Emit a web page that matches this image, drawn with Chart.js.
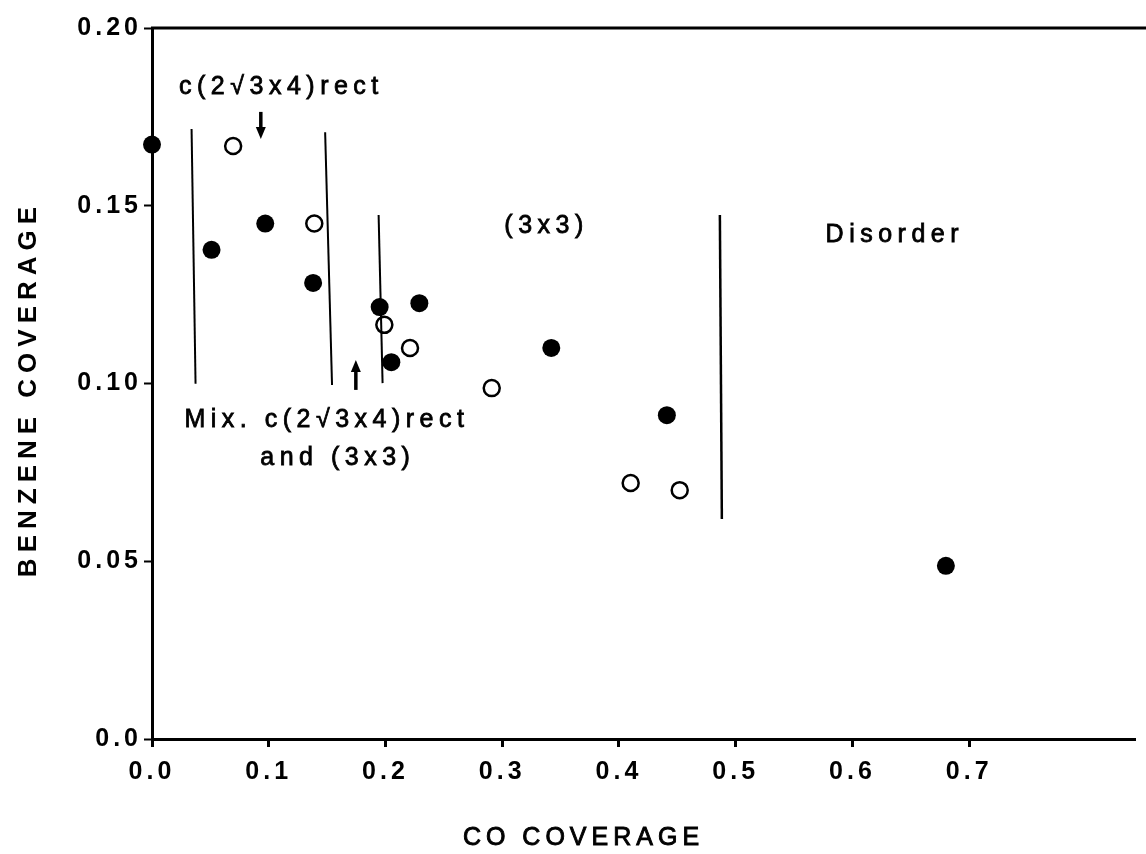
<!DOCTYPE html>
<html>
<head>
<meta charset="utf-8">
<script src="https://cdn.jsdelivr.net/npm/chart.js@4/dist/chart.umd.min.js"></script>
<style>
html,body{margin:0;padding:0;background:#fff;overflow:hidden;}
#wrap{width:1146px;height:854px;position:relative;}
</style>
</head>
<body>
<div id="wrap"><canvas id="c"></canvas></div>
<script>
// ---- data ----
const filledCO      = [0.000, 0.051, 0.097, 0.138, 0.195, 0.229, 0.205, 0.342, 0.441, 0.680];
const filledBenzene = [0.1672, 0.1376, 0.1450, 0.1283, 0.1215, 0.1226, 0.1060, 0.1100, 0.0911, 0.0487];
const openCO        = [0.0695, 0.139, 0.199, 0.221, 0.291, 0.410, 0.452];
const openBenzene   = [0.1668, 0.1450, 0.1165, 0.1100, 0.0987, 0.0720, 0.0700];

const xTickValues = [0.0, 0.1, 0.2, 0.3, 0.4, 0.5, 0.6, 0.7];
const xTickLabels = ['0.0', '0.1', '0.2', '0.3', '0.4', '0.5', '0.6', '0.7'];
const yTickValues = [0.0, 0.05, 0.10, 0.15, 0.20];
const yTickLabels = ['0.0', '0.05', '0.10', '0.15', '0.20'];

// phase-boundary lines (CO coverage / benzene coverage of both ends)
const boundaryCOStart  = [0.0339, 0.1483, 0.1941, 0.4864];
const boundaryCOEnd    = [0.0373, 0.1542, 0.1975, 0.4881];
const boundaryBzStart  = [0.1716, 0.1707, 0.1474, 0.1474];
const boundaryBzEnd    = [0.0999, 0.0996, 0.1001, 0.0619];

// arrows
const arrowCO     = [0.0932, 0.1746];
const arrowBzFrom = [0.1764, 0.0982];
const arrowBzTo   = [0.1688, 0.1066];

// region labels
const regionTexts = ['c(2\u221A3x4)rect', '(3x3)', 'Disorder', 'Mix. c(2\u221A3x4)rect', 'and (3x3)'];
const regionCO    = [0.1085, 0.3356, 0.6339, 0.1475, 0.1568];
const regionBz    = [0.1834, 0.1443, 0.1418, 0.0897, 0.0790];

const xTitle = 'CO COVERAGE';
const yTitle = 'BENZENE COVERAGE';

// ---- chart ----
const FONT = '"Liberation Sans", Arial, Helvetica, sans-serif';
const INK = '#000';

const pts = (xs, ys) => xs.map((x, i) => ({x: x, y: ys[i]}));

function heavyText(ctx, text, x, y, w) {
  ctx.fillText(text, x, y);
  ctx.lineWidth = w;
  ctx.strokeText(text, x, y);
}

const annotationPlugin = {
  id: 'annotations',
  beforeDraw(chart) {
    chart.ctx.letterSpacing = '4px';
  },
  afterDatasetsDraw(chart) {
    const ctx = chart.ctx;
    const xs = chart.scales.x, ys = chart.scales.y;
    const ca = chart.chartArea;
    ctx.save();
    ctx.letterSpacing = '0px';
    // top frame line
    ctx.strokeStyle = INK;
    ctx.lineWidth = 3;
    ctx.beginPath();
    ctx.moveTo(ca.left - 1, ca.top);
    ctx.lineTo(chart.width, ca.top);
    ctx.stroke();
    // boundary lines
    for (let i = 0; i < boundaryCOStart.length; i++) {
      ctx.lineWidth = i === 3 ? 2.5 : 2;
      ctx.beginPath();
      ctx.moveTo(xs.getPixelForValue(boundaryCOStart[i]), ys.getPixelForValue(boundaryBzStart[i]));
      ctx.lineTo(xs.getPixelForValue(boundaryCOEnd[i]), ys.getPixelForValue(boundaryBzEnd[i]));
      ctx.stroke();
    }
    // arrows
    for (let i = 0; i < arrowCO.length; i++) {
      const x = xs.getPixelForValue(arrowCO[i]);
      const y0 = ys.getPixelForValue(arrowBzFrom[i]);
      const y1 = ys.getPixelForValue(arrowBzTo[i]);
      const dir = y1 > y0 ? 1 : -1;
      const head = 12;
      ctx.lineWidth = 3.5;
      ctx.beginPath();
      ctx.moveTo(x, y0);
      ctx.lineTo(x, y1 - dir * head * 0.6);
      ctx.stroke();
      ctx.fillStyle = INK;
      ctx.beginPath();
      ctx.moveTo(x, y1);
      ctx.lineTo(x - 5, y1 - dir * head);
      ctx.lineTo(x + 5, y1 - dir * head);
      ctx.closePath();
      ctx.fill();
    }
    // region labels
    ctx.fillStyle = INK;
    ctx.strokeStyle = INK;
    ctx.font = '25px ' + FONT;
    ctx.textAlign = 'center';
    ctx.textBaseline = 'middle';
    ctx.letterSpacing = '5.5px';
    for (let i = 0; i < regionTexts.length; i++) {
      heavyText(ctx, regionTexts[i], xs.getPixelForValue(regionCO[i]) + 2.75, ys.getPixelForValue(regionBz[i]), 0.8);
    }
    // axis titles
    ctx.font = '25px ' + FONT;
    ctx.letterSpacing = '5px';
    heavyText(ctx, xTitle, 581 + 2.5, 838, 0.9);
    ctx.save();
    ctx.translate(29, 392);
    ctx.rotate(-Math.PI / 2);
    ctx.font = 'bold 26px ' + FONT;
    ctx.letterSpacing = '6px';
    ctx.fillText(yTitle, 3, 0);
    ctx.restore();
    ctx.restore();
  },
  afterDraw(chart) {
    chart.ctx.letterSpacing = '0px';
  }
};

new Chart(document.getElementById('c'), {
  type: 'scatter',
  data: {
    datasets: [
      {
        label: 'filled',
        data: pts(filledCO, filledBenzene),
        backgroundColor: INK,
        borderColor: INK,
        borderWidth: 0,
        pointRadius: 9,
        clip: false
      },
      {
        label: 'open',
        data: pts(openCO, openBenzene),
        backgroundColor: '#fff',
        borderColor: INK,
        borderWidth: 2.5,
        pointRadius: 8,
        clip: false
      }
    ]
  },
  options: {
    responsive: true,
    maintainAspectRatio: false,
    animation: false,
    events: [],
    layout: {padding: {top: 28, right: -5, left: 0, bottom: 0}},
    plugins: {legend: {display: false}, tooltip: {enabled: false}, title: {display: false}},
    scales: {
      x: {
        type: 'linear',
        min: 0,
        max: 0.8424,
        afterFit(s) { s.height = 115; s.paddingRight = 0; s.paddingLeft = 0; },
        afterBuildTicks(s) { s.ticks = xTickValues.map(v => ({value: v})); },
        ticks: {
          callback: (v, i) => xTickLabels[i],
          color: INK,
          font: {family: FONT, size: 25, weight: 'bold'},
          padding: 10,
          maxRotation: 0,
          autoSkip: false
        },
        grid: {drawOnChartArea: false, drawTicks: true, tickLength: 8, tickWidth: 3, color: INK},
        border: {display: true, color: INK, width: 3}
      },
      y: {
        type: 'linear',
        min: 0,
        max: 0.2,
        afterFit(s) { s.width = 152; },
        afterBuildTicks(s) { s.ticks = yTickValues.map(v => ({value: v})); },
        ticks: {
          callback: (v, i) => yTickLabels[i],
          color: INK,
          font: {family: FONT, size: 25, weight: 'bold'},
          padding: 2,
          autoSkip: false
        },
        grid: {drawOnChartArea: false, drawTicks: true, tickLength: 8, tickWidth: 2, color: INK},
        border: {display: true, color: INK, width: 3}
      }
    }
  },
  plugins: [annotationPlugin]
});
</script>
</body>
</html>
